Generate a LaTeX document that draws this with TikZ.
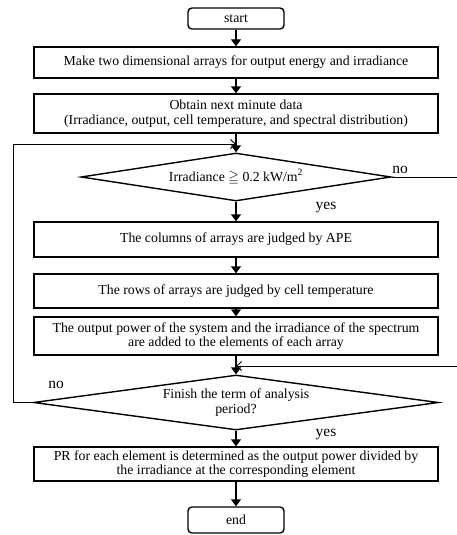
\documentclass[tikz,border=0pt]{standalone}
\usepackage{amsmath,amssymb}
\usepackage{fontspec}
\setmainfont{Liberation Serif}
\usepackage{tikz}
\usetikzlibrary{arrows.meta,shapes.geometric}

\begin{document}
\begin{tikzpicture}[
    x=1pt, y=-1pt,
    box/.style={draw, line width=1.4pt, minimum width=404pt, inner xsep=2pt, inner ysep=0pt, font=\fontsize{13.8}{14.5}\selectfont, align=center},
    term/.style={draw, line width=1.4pt, rounded corners=4pt, minimum width=96pt, inner sep=0pt, font=\fontsize{13.8}{15}\selectfont},
    cond/.style={draw, diamond, line width=1.4pt, inner sep=0pt, font=\fontsize{13.8}{15}\selectfont, align=center},
    lbl/.style={font=\fontsize{15.5}{15.5}\selectfont, inner sep=0pt},
    arr/.style={-{Triangle[length=7pt, width=10pt]}, line width=1.4pt},
    back/.style={-{Straight Barb[length=5pt, width=9pt]}, line width=0.9pt}
]
\useasboundingbox (0,0) rectangle (457,535);

\node[term, minimum height=21pt] (start) at (236,18.5) {start};
\node[box, minimum height=31pt] (make) at (236,62.5) {Make two dimensional arrays for output energy and irradiance};
\node[box, minimum height=39pt] (obtain) at (236,113.5) {Obtain next minute data\\(Irradiance, output, cell temperature, and spectral distribution)};
\node[cond, aspect=6.5, minimum width=310pt, minimum height=48pt] (irr) at (236,177) {Irradiance $\geqq$ 0.2 kW/m\textsuperscript{2}};
\node[box, minimum height=35pt] (cols) at (236,239.5) {The columns of arrays are judged by APE};
\node[box, minimum height=34pt] (rows) at (236,291) {The rows of arrays are judged by cell temperature};
\node[box, minimum height=38pt] (add) at (236,336) {The output power of the system and the irradiance of the spectrum\\are added to the elements of each array};
\node[cond, aspect=7.4, minimum width=405pt, minimum height=55pt] (fin) at (236,402.5) {Finish the term of analysis\\period?};
\node[box, minimum height=34pt] (pr) at (236,464) {PR for each element is determined as the output power divided by\\the irradiance at the corresponding element};
\node[term, minimum height=26pt] (end) at (236,520) {end};

\coordinate (join1) at (236,144);
\coordinate (join2) at (236,366);

\node[lbl] (no1) at (400,170) {no};
\node[lbl] (yes1) at (326,208) {yes};
\node[lbl] (no2) at (56,385) {no};
\node[lbl] (yes2) at (326,435) {yes};

\draw[arr] (start) -- (make);
\draw[arr] (make) -- (obtain);
\draw[arr] (obtain) -- (irr);
\draw[arr] (irr) -- (cols);
\draw[arr] (cols) -- (rows);
\draw[arr] (rows) -- (add);
\draw[arr] (add) -- (fin);
\draw[arr] (fin) -- (pr);
\draw[arr] (pr) -- (end);

\draw[back] (fin.west) -- ++(-19,0) |- (join1);
\draw[back] (irr.east) -- (458,177) |- (join2);
\end{tikzpicture}
\end{document}
